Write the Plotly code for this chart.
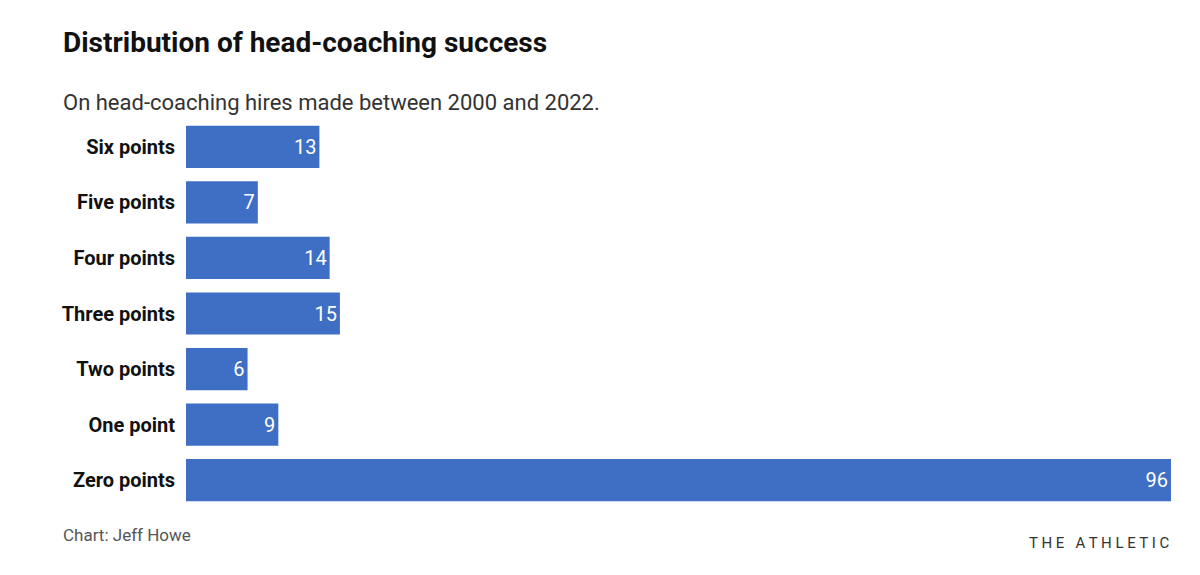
import plotly.graph_objects as go

categories = ["Six points", "Five points", "Four points", "Three points", "Two points", "One point", "Zero points"]
values = [13, 7, 14, 15, 6, 9, 96]

fig = go.Figure(go.Bar(
    x=values, y=categories, orientation="h",
    marker=dict(color="#3f6fc4", line=dict(width=0)),
    text=[str(v) for v in values], textposition="inside", insidetextanchor="end",
    textfont=dict(color="white", size=20, family="Roboto"),
    cliponaxis=False,
))
fig.update_layout(
    width=1200, height=575, plot_bgcolor="white", paper_bgcolor="white",
    margin=dict(l=178, r=37, t=111, b=75),
    bargap=0.24, showlegend=False,
    xaxis=dict(range=[0, 96], visible=False, fixedrange=True),
    yaxis=dict(autorange="reversed", showgrid=False, ticks="", ticklen=0,
               tickfont=dict(family="Roboto", size=20, color="#111"), ticksuffix="  "),
    font=dict(family="Roboto"),
)
fig.add_annotation(text="<b>Distribution of head-coaching success</b>", xref="paper", yref="paper",
                   x=-0.127, y=1.0, xanchor="left", yanchor="bottom", yshift=58, showarrow=False,
                   font=dict(size=28, color="#111", family="Roboto"))
fig.add_annotation(text="On head-coaching hires made between 2000 and 2022.", xref="paper", yref="paper",
                   x=-0.127, y=1.0, xanchor="left", yanchor="bottom", yshift=2, showarrow=False,
                   font=dict(size=22, color="#333", family="Roboto"))
fig.add_annotation(text="Chart: Jeff Howe", xref="paper", yref="paper",
                   x=-0.127, y=0, xanchor="left", yanchor="top", yshift=-15, showarrow=False,
                   font=dict(size=17, color="#555", family="Roboto"))
fig.add_annotation(text="T H E   A T H L E T I C", xref="paper", yref="paper",
                   x=1.0, y=0, xanchor="right", yanchor="top", yshift=-24, showarrow=False,
                   font=dict(size=15, color="#333", family="Roboto"))
fig.update_traces(hoverinfo="skip")
fig.update_yaxes(tickfont=dict(size=20, family="Roboto", weight="bold"))
fig.write_html("out.html")
